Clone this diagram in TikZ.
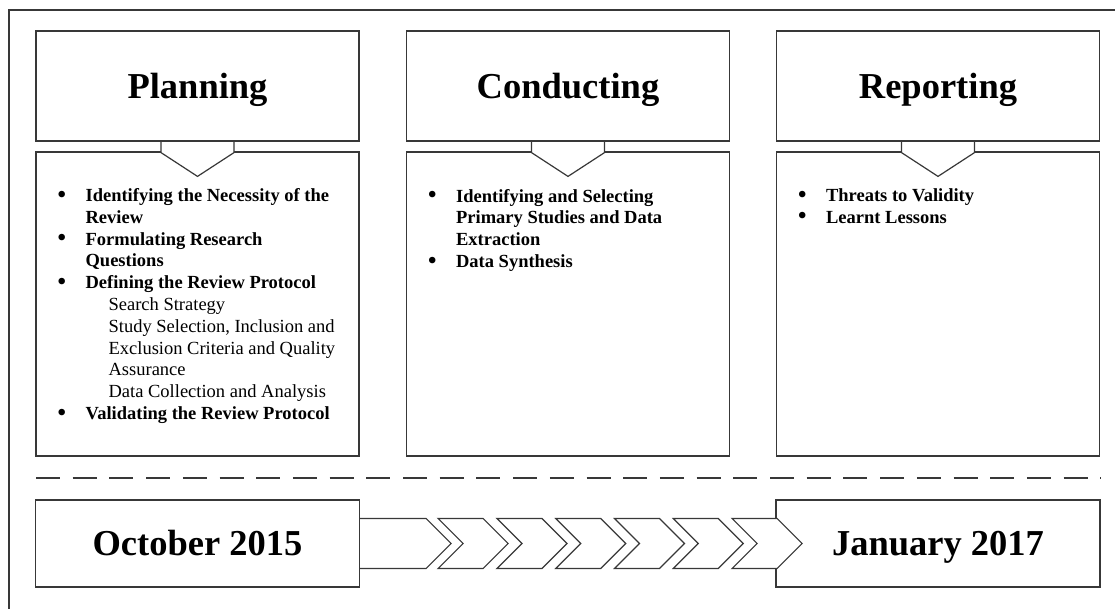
\documentclass[tikz,border=0pt]{standalone}
\usepackage{fontspec}
\setmainfont{Liberation Serif}
\usetikzlibrary{calc}

% one line of a list: bullet, continuation, indented sub-entry
\newcommand{\listdot}{\raisebox{-0.6pt}{\scalebox{1.3}{\textbf{\textbullet}}}}
\newcommand{\itemhead}[1]{\makebox[28pt][l]{\listdot}\textbf{#1}}
\newcommand{\itemcont}[1]{\hspace*{28pt}\textbf{#1}}
\newcommand{\itemsub}[1]{\hspace*{51pt}#1}

\begin{document}
\begin{tikzpicture}[x=1pt,y=-1pt,
  edge/.style={draw=black!78, line width=1.2pt},
  headbox/.style={edge, fill=white, minimum width=323pt, minimum height=110pt,
    inner sep=0pt, text height=24.5pt, text depth=0pt,
    font=\fontsize{36.5}{40}\selectfont\bfseries},
  bodybox/.style={edge, fill=white, minimum width=323pt, minimum height=304pt, inner sep=0pt},
  datebox/.style={edge, fill=white, minimum width=324pt, minimum height=87pt,
    inner sep=0pt, text height=24pt, text depth=0pt,
    font=\fontsize{36.5}{40}\selectfont\bfseries},
  itemtext/.style={anchor=north west, inner sep=0pt, align=left,
    font=\fontsize{18.5}{21.8}\selectfont},
  chevron/.style={edge, fill=white, line join=miter},
  splitline/.style={draw=black!78, line width=1.5pt, dash pattern=on 24pt off 12.7pt},
]
\useasboundingbox (0,0) rectangle (1115,609);

% outer frame (only its top and left sides fall inside the page)
\coordinate (frameBL) at (9,609);
\coordinate (frameTL) at (9,10);
\coordinate (frameTR) at (1115,10);
\draw[edge] (frameBL) -- (frameTL) -- (frameTR);

% phase bodies
\node[bodybox] (planb) at (197.5,304) {};
\node[bodybox] (condb) at (568,304) {};
\node[bodybox] (repb)  at (938,304) {};

% phase headings
\node[headbox] (planh) at (197.5,86) {Planning};
\node[headbox] (condh) at (568,86) {Conducting};
\node[headbox] (reph)  at (938,86) {Reporting};

% downward notches joining heading and body
\foreach \n in {plan,cond,rep} {
  \draw[edge, fill=white, line join=miter]
    ($(\n h.south)+(-36.5,0.6)$) -- ($(\n h.south)+(-36.5,11)$)
    -- ($(\n b.north)+(0,25)$)
    -- ($(\n h.south)+(36.5,11)$) -- ($(\n h.south)+(36.5,0.6)$);
}

% list contents
\node[itemtext] (plant) at ($(planb.north west)+(22,34.7)$) {%
  \strut\itemhead{Identifying the Necessity of the}\\
  \itemcont{Review}\\
  \itemhead{Formulating Research}\\
  \itemcont{Questions}\\
  \itemhead{Defining the Review Protocol}\\
  \itemsub{Search Strategy}\\
  \itemsub{Study Selection, Inclusion and}\\
  \itemsub{Exclusion Criteria and Quality}\\
  \itemsub{Assurance}\\
  \itemsub{Data Collection and Analysis}\\
  \itemhead{Validating the Review Protocol}};

\node[itemtext] (condt) at ($(condb.north west)+(22,35.2)$) {%
  \strut\itemhead{Identifying and Selecting}\\
  \itemcont{Primary Studies and Data}\\
  \itemcont{Extraction}\\
  \itemhead{Data Synthesis}};

\node[itemtext] (rept) at ($(repb.north west)+(22,34.7)$) {%
  \strut\itemhead{Threats to Validity}\\
  \itemhead{Learnt Lessons}};

% dashed separator
\coordinate (sepL) at (36,478);
\coordinate (sepR) at (1101,478);
\draw[splitline] (sepL) -- (sepR);

% time line
\node[datebox] (oct) at (197.5,543.5) {October 2015};
\node[datebox] (jan) at (938,543.5) {January 2017};

\draw[chevron] ($(oct.east)+(0,-25)$) -- ++(66,0) -- ++(25,25) -- ++(-25,25) -- ++(-66,0);
\foreach \i in {0,...,5} {
  \draw[chevron] ($(oct.east)+({78+58.8*\i},-25)$)
    -- ++(45,0) -- ++(25,25) -- ++(-25,25) -- ++(-45,0) -- ++(25,-25) -- cycle;
}
\end{tikzpicture}
\end{document}
